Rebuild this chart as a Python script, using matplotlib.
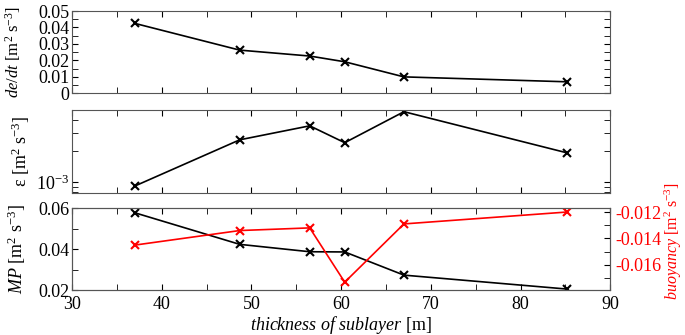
import matplotlib
matplotlib.use("Agg")
import matplotlib.pyplot as plt
from matplotlib.ticker import MultipleLocator, LogLocator, NullFormatter

plt.rcParams["font.family"] = ["Liberation Serif", "DejaVu Serif"]
plt.rcParams["mathtext.fontset"] = "custom"
plt.rcParams["mathtext.rm"] = "Liberation Serif"
plt.rcParams["mathtext.it"] = "Liberation Serif:italic"
plt.rcParams["axes.unicode_minus"] = False
plt.rcParams["font.size"] = 13

# sublayer thickness [m]
thickness = [37.0, 48.7, 56.5, 60.4, 67.0, 85.2]
dedt = [0.0425, 0.0262, 0.0226, 0.0191, 0.0099, 0.0069]
eps = [0.91e-3, 2.56e-3, 3.5e-3, 2.4e-3, 4.8e-3, 1.91e-3]
mp = [0.0577, 0.0423, 0.0387, 0.0386, 0.0273, 0.0205]
buoy = [-0.0145, -0.0134, -0.0132, -0.0173, -0.0129, -0.0120]

fig = plt.figure(figsize=(6.85, 3.35), dpi=100)
L, W = 0.105, 0.786
ax1 = fig.add_axes([L, 0.722, W, 0.245])
ax2 = fig.add_axes([L, 0.424, W, 0.248])
ax3 = fig.add_axes([L, 0.134, W, 0.245])

line_kw = dict(color="black", lw=1.2, marker="x", ms=6, mew=1.5)

ax1.plot(thickness, dedt, **line_kw)
ax1.set_ylim(0, 0.05)
ax1.yaxis.set_major_locator(MultipleLocator(0.01))
ax1.yaxis.set_minor_locator(MultipleLocator(0.005))
ax1.yaxis.set_major_formatter(plt.FuncFormatter(lambda v, p: "0" if v == 0 else f"{v:.2f}"))
ax1.set_ylabel(r"$de/dt$ [m$^{2}$ s$^{-3}$]", fontsize=12)

ax2.plot(thickness, eps, **line_kw)
ax2.set_yscale("log")
ax2.set_ylim(7.8e-4, 5e-3)
ax2.yaxis.set_major_locator(LogLocator(base=10))
ax2.yaxis.set_minor_locator(LogLocator(base=10, subs=range(2, 10)))
ax2.yaxis.set_minor_formatter(NullFormatter())
ax2.set_ylabel(r"ε [m$^{2}$ s$^{-3}$]")

ax3.plot(thickness, mp, **line_kw)
ax3.set_ylim(0.02, 0.06)
ax3.yaxis.set_major_locator(MultipleLocator(0.02))
ax3.yaxis.set_minor_locator(MultipleLocator(0.01))
ax3.yaxis.set_major_formatter(plt.FuncFormatter(lambda v, p: f"{v:.2f}"))
ax3.set_ylabel(r"$MP$ [m$^{2}$ s$^{-3}$]")
ax3.set_xlabel(r"$thickness\ of\ sublayer$ [m]", labelpad=1)

ax3r = ax3.twinx()
ax3r.plot(thickness, buoy, color="red", lw=1.2, marker="x", ms=6, mew=1.5)
ax3r.set_ylim(-0.0179, -0.0117)
ax3r.yaxis.set_major_locator(MultipleLocator(0.002))
ax3r.yaxis.set_minor_locator(MultipleLocator(0.001))
ax3r.yaxis.set_major_formatter(plt.FuncFormatter(lambda v, p: f"{v:.3f}"))
ax3r.tick_params(axis="y", which="both", direction="in", colors="black",
                 labelcolor="red", length=4)
ax3r.set_ylabel(r"$buoyancy$ [m$^{2}$ s$^{-3}$]", color="red", fontsize=11.5)
ax3r.yaxis.set_label_coords(1.097, 0.6)
for s in ax3r.spines.values():
    s.set_color("#555555")

for ax in (ax1, ax2, ax3):
    ax.set_xlim(30, 90)
    ax.xaxis.set_major_locator(MultipleLocator(10))
    ax.xaxis.set_minor_locator(MultipleLocator(5))
    ax.tick_params(which="both", direction="in", length=4, top=True,
                   right=(ax is not ax3), pad=2)
    ax.tick_params(axis="x", pad=4)
    for s in ax.spines.values():
        s.set_color("#555555")
    if ax is not ax3:
        ax.tick_params(labelbottom=False)

ax1.yaxis.set_label_coords(-0.09, 0.5)
ax2.yaxis.set_label_coords(-0.075, 0.5)
ax3.yaxis.set_label_coords(-0.082, 0.5)

fig.savefig("out.png", dpi=100)
